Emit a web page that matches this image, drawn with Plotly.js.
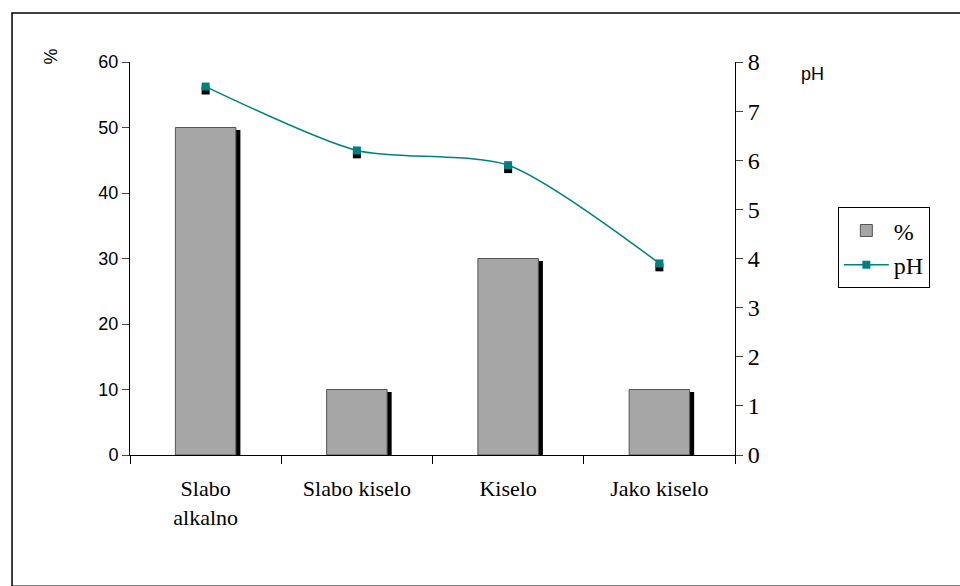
<html><head><script src="https://cdn.plot.ly/plotly-3.0.1.min.js"></script></head>
<body style="margin:0"><div id="c" style="width:960px;height:586px"></div><script>
const categories=["Slabo<br>alkalno","Slabo kiselo","Kiselo","Jako kiselo"];
const percent=[50,10,30,10];
const ph=[7.5,6.2,5.9,3.9];
const serif='"Liberation Serif", "Times New Roman", serif';
const traces=[
{type:'bar',x:categories,y:percent.map(v=>v-0.4),width:0.4,offset:-0.17,marker:{color:'#000'},showlegend:false,hoverinfo:'skip'},
{type:'bar',x:categories,y:percent,width:0.4,offset:-0.2,name:'%',marker:{color:'#a6a6a6',line:{color:'#555',width:1}}},
{type:'scatter',mode:'markers',x:categories,y:ph.map(v=>v-0.08),yaxis:'y2',marker:{symbol:'square',size:8,color:'#000'},showlegend:false,hoverinfo:'skip'},
{type:'scatter',mode:'lines+markers',x:categories,y:ph,yaxis:'y2',name:'pH',line:{color:'#008080',width:1.5,shape:'spline',smoothing:0.7},marker:{symbol:'square',size:8,color:'#008080'}}
];
const layout={width:960,height:586,margin:{l:130,r:225,t:62,b:131},paper_bgcolor:'#fff',plot_bgcolor:'rgba(0,0,0,0)',barmode:'overlay',
font:{family:'Liberation Sans',size:18,color:'#000'},
xaxis:{type:'category',showline:true,linecolor:'#000',ticks:'outside',tickson:'boundaries',ticklen:8,tickcolor:'#000',ticklabelstandoff:14,tickfont:{family:serif,size:22,color:'#000'},showgrid:false},
yaxis:{range:[0,60],dtick:10,showline:true,linecolor:'#000',ticks:'outside',ticklen:7,showgrid:false,zeroline:false,tickfont:{size:18}},
yaxis2:{range:[0,8],dtick:1,overlaying:'y',side:'right',showline:true,linecolor:'#000',ticks:'outside',ticklen:7,showgrid:false,zeroline:false,tickfont:{family:serif,size:24}},
legend:{x:1.17,y:0.63,xanchor:'left',yanchor:'top',bordercolor:'#000',borderwidth:1,bgcolor:'#fff',font:{family:serif,size:24},itemwidth:45,tracegroupgap:8},
shapes:[{type:'rect',xref:'paper',yref:'paper',x0:-0.195,x1:1.4,y0:-0.334,y1:1.125,line:{color:'#000',width:1.5}}],
annotations:[
{text:'%',xref:'paper',yref:'paper',x:-0.15,y:1.04,showarrow:false,textangle:-90,font:{size:18}},
{text:'pH',xref:'paper',yref:'paper',x:1.15,y:1.0,showarrow:false,font:{size:18}}
]};
Plotly.newPlot('c',traces,layout,{displayModeBar:false});
</script></body></html>
